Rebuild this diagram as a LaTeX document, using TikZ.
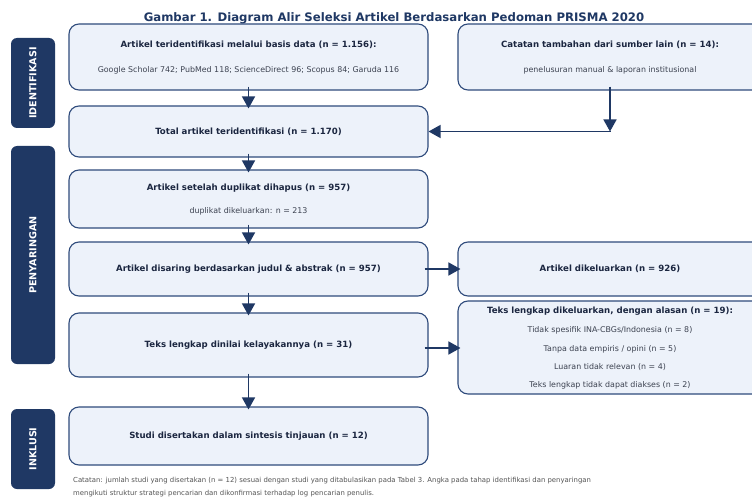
\documentclass[tikz,border=0pt]{standalone}
\usepackage{fontspec}
\setmainfont{DejaVu Sans}
\usetikzlibrary{arrows.meta}
\definecolor{navy}{HTML}{1F3864}
\definecolor{boxfill}{HTML}{EDF2FA}
\definecolor{boxline}{HTML}{2F4B7C}
\definecolor{txt}{HTML}{1B2640}
\definecolor{subtxt}{HTML}{3C4250}
\definecolor{notetxt}{HTML}{555555}
\begin{document}
\begin{tikzpicture}[x=1pt,y=-1pt,
  flowbox/.style={draw=boxline, fill=boxfill, line width=1.1pt, rounded corners=10pt, inner sep=0pt},
  phasebar/.style={fill=navy, rounded corners=6pt, inner sep=0pt, minimum width=44pt},
  phasetxt/.style={text=white, font=\fontsize{9.6}{10}\selectfont\bfseries, rotate=90},
  headtxt/.style={text=txt, font=\fontsize{8.6}{10}\selectfont\bfseries, inner sep=0pt},
  subtxt/.style={text=subtxt, font=\fontsize{7.9}{9}\selectfont, inner sep=0pt},
  arr/.style={draw=navy, line width=1.5pt, -{Triangle[length=12pt,width=13pt]}}
]
\useasboundingbox[fill=white] (0,0) rectangle (752,500);
\node[text=navy, font=\fontsize{11.7}{13}\selectfont\bfseries] (title) at (394,18) {Gambar 1. Diagram Alir Seleksi Artikel Berdasarkan Pedoman PRISMA 2020};
% phase bars
\node[phasebar, minimum height=90pt] (p1) at (33,83) {};
\node[phasetxt] (p1t) at (p1) {IDENTIFIKASI};
\node[phasebar, minimum height=218pt] (p2) at (33,255) {};
\node[phasetxt] (p2t) at (p2) {PENYARINGAN};
\node[phasebar, minimum height=80pt] (p3) at (33,449) {};
\node[phasetxt] (p3t) at (p3) {INKLUSI};
% left column
\node[flowbox, minimum width=359pt, minimum height=66pt] (b1) at (248.5,57) {};
\node[headtxt] (b1a) at (248.5,45) {Artikel teridentifikasi melalui basis data (n = 1.156):};
\node[subtxt] (b1b) at (248.5,70) {Google Scholar 742; PubMed 118; ScienceDirect 96; Scopus 84; Garuda 116};
\node[flowbox, minimum width=359pt, minimum height=51pt] (b2) at (248.5,131.5) {};
\node[headtxt] (b2a) at (b2) {Total artikel teridentifikasi (n = 1.170)};
\node[flowbox, minimum width=359pt, minimum height=58pt] (b3) at (248.5,199) {};
\node[headtxt] (b3a) at (248.5,188) {Artikel setelah duplikat dihapus (n = 957)};
\node[subtxt] (b3b) at (248.5,211) {duplikat dikeluarkan: n = 213};
\node[flowbox, minimum width=359pt, minimum height=54pt] (b4) at (248.5,269) {};
\node[headtxt] (b4a) at (b4) {Artikel disaring berdasarkan judul \& abstrak (n = 957)};
\node[flowbox, minimum width=359pt, minimum height=64pt] (b5) at (248.5,345) {};
\node[headtxt] (b5a) at (b5) {Teks lengkap dinilai kelayakannya (n = 31)};
\node[flowbox, minimum width=359pt, minimum height=58pt] (b6) at (248.5,436) {};
\node[headtxt] (b6a) at (b6) {Studi disertakan dalam sintesis tinjauan (n = 12)};
% right column
\node[flowbox, minimum width=304pt, minimum height=66pt] (r1) at (610,57) {};
\node[headtxt] (r1a) at (610,45) {Catatan tambahan dari sumber lain (n = 14):};
\node[subtxt] (r1b) at (610,70) {penelusuran manual \& laporan institusional};
\node[flowbox, minimum width=304pt, minimum height=54pt] (r2) at (610,269) {};
\node[headtxt] (r2a) at (r2) {Artikel dikeluarkan (n = 926)};
\node[flowbox, minimum width=304pt, minimum height=93pt] (r3) at (610,347.5) {};
\node[headtxt] (r3a) at (610,311) {Teks lengkap dikeluarkan, dengan alasan (n = 19):};
\node[subtxt] (r3b) at (610,330) {Tidak spesifik INA-CBGs/Indonesia (n = 8)};
\node[subtxt] (r3c) at (610,349) {Tanpa data empiris / opini (n = 5)};
\node[subtxt] (r3d) at (610,367) {Luaran tidak relevan (n = 4)};
\node[subtxt] (r3e) at (610,385) {Teks lengkap tidak dapat diakses (n = 2)};
% note
\node[text=notetxt, font=\fontsize{6.9}{13}\selectfont, anchor=north west, align=left, inner sep=0pt] (note) at (73,477) {Catatan: jumlah studi yang disertakan (n = 12) sesuai dengan studi yang ditabulasikan pada Tabel 3. Angka pada tahap identifikasi dan penyaringan\\mengikuti struktur strategi pencarian dan dikonfirmasi terhadap log pencarian penulis.};
% connectors
\draw[arr, shorten <=-4pt, shorten >=-3pt] (b1.south) -- (b2.north);
\draw[arr, shorten <=-4pt, shorten >=-3pt] (b2.south) -- (b3.north);
\draw[arr, shorten <=-4pt, shorten >=-3pt] (b3.south) -- (b4.north);
\draw[arr, shorten <=-4pt, shorten >=-3pt] (b4.south) -- (b5.north);
\draw[arr, shorten <=-4pt, shorten >=-3pt] (b5.south) -- (b6.north);
\coordinate (j) at (r1.south |- b2.east);
\draw[arr, shorten <=-4pt] (r1.south) -- (j);
\draw[arr, shorten <=-0.7pt] (j) -- (b2.east);
\draw[arr, shorten <=-4pt, shorten >=-3pt] (b4.east) -- (r2.west);
\draw[arr, shorten <=-4pt, shorten >=-3pt] ([yshift=-3pt]b5.east) -- ([yshift=-3pt]b5.east -| r3.west);
\end{tikzpicture}
\end{document}
